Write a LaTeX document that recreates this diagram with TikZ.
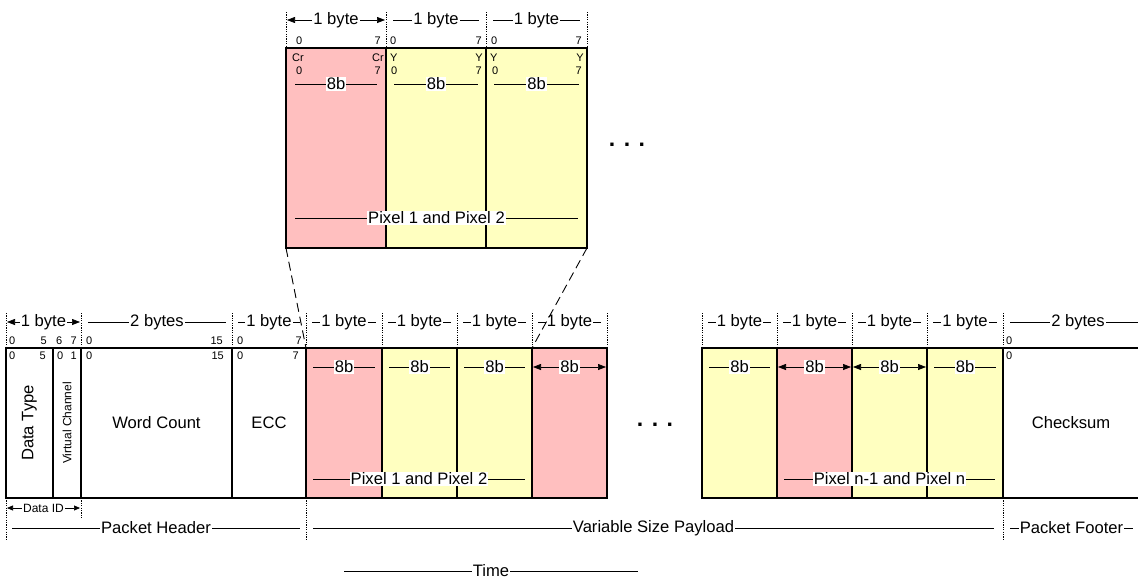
\documentclass[tikz,border=0pt]{standalone}
\usepackage{fontspec}
\setmainfont{Liberation Sans}
\usetikzlibrary{arrows.meta}
\definecolor{crpink}{HTML}{FFBFBF}
\definecolor{lumayellow}{HTML}{FFFFC0}

\tikzset{
  field/.style={draw=black, line width=2.4pt, inner sep=0pt, outer sep=0pt, anchor=north west},
  fieldtext/.style={font=\fontsize{16.6}{19}\selectfont},
  dimline/.style={line width=0.7pt},
  dimarrows/.style={{Triangle[length=8pt,width=6pt]}-{Triangle[length=8pt,width=6pt]}},
  smallarrows/.style={{Triangle[length=6pt,width=5pt]}-{Triangle[length=6pt,width=5pt]}},
  dimlabel/.style={fill=white, inner sep=1pt, font=\fontsize{16.6}{19}\selectfont},
  smalllabel/.style={fill=white, inner sep=1pt, font=\fontsize{12}{14}\selectfont},
  guide/.style={line width=0.6pt, dash pattern=on 1.2pt off 1.2pt},
  bitno/.style={inner sep=0pt, font=\fontsize{11}{13}\selectfont},
  zoomline/.style={line width=0.9pt, dash pattern=on 9pt off 5pt},
  ellipsis/.style={inner sep=0pt, font=\fontsize{23}{26}\selectfont\bfseries},
}

% dimension line with a centred label: [line options] x1 x2 y text
\newcommand\dimlab[5][]{%
  \draw[dimline,#1] (#2,#4) -- (#3,#4) node[midway, dimlabel] {#5};}
\newcommand\guideline[3]{\draw[guide] (#1,#2) -- (#1,#3);}

\begin{document}
\begin{tikzpicture}[x=1pt,y=-1pt]
\clip (0,0) rectangle (1138,581);

% ---------------- enlarged pixel pair ----------------
\node[field, fill=crpink,     minimum width=100pt, minimum height=200pt] (t1) at (286,48) {};
\node[field, fill=lumayellow, minimum width=100pt, minimum height=200pt] (t2) at (386,48) {};
\node[field, fill=lumayellow, minimum width=101pt, minimum height=200pt] (t3) at (486,48) {};

\foreach \gx in {286,386,486,587} {\guideline{\gx}{12}{48}}
\dimlab[dimarrows]{287}{385}{20}{1 byte}
\dimlab{393}{479}{20}{1 byte}
\dimlab{493}{580}{20}{1 byte}

% bit numbers above the enlarged bytes
\node[bitno, anchor=west] at (296,41) {0};
\node[bitno, anchor=east] at (381,41) {7};
\node[bitno, anchor=west] at (390,41) {0};
\node[bitno, anchor=east] at (482,41) {7};
\node[bitno, anchor=west] at (491,41) {0};
\node[bitno, anchor=east] at (582,41) {7};

% component names and bit numbers inside the enlarged bytes
\node[bitno, anchor=west] at (292,58) {Cr};
\node[bitno, anchor=east] at (384,58) {Cr};
\node[bitno, anchor=west] at (296,71) {0};
\node[bitno, anchor=east] at (381,71) {7};
\node[bitno, anchor=west] at (390,58) {Y};
\node[bitno, anchor=east] at (483,58) {Y};
\node[bitno, anchor=west] at (391,71) {0};
\node[bitno, anchor=east] at (482,71) {7};
\node[bitno, anchor=west] at (490,58) {Y};
\node[bitno, anchor=east] at (584,58) {Y};
\node[bitno, anchor=west] at (492,71) {0};
\node[bitno, anchor=east] at (582,71) {7};

\dimlab{295}{377}{84}{8b}
\dimlab{394}{478}{84}{8b}
\dimlab{494}{579}{84}{8b}
\dimlab{295}{578}{218}{Pixel 1 and Pixel 2}

\node[ellipsis] (dotstop) at (627,145) {. . .};

% ---------------- packet ----------------
\node[field, minimum width=47pt,  minimum height=150pt] (dt)  at (6,348) {};
\node[field, minimum width=28pt,  minimum height=150pt] (vc)  at (53,348) {};
\node[field, minimum width=151pt, minimum height=150pt] (wc)  at (81,348) {};
\node[field, minimum width=74pt,  minimum height=150pt] (ecc) at (232,348) {};
\node[field, fill=crpink,     minimum width=76pt, minimum height=150pt] (p1) at (306,348) {};
\node[field, fill=lumayellow, minimum width=75pt, minimum height=150pt] (p2) at (382,348) {};
\node[field, fill=lumayellow, minimum width=75pt, minimum height=150pt] (p3) at (457,348) {};
\node[field, fill=crpink,     minimum width=75pt, minimum height=150pt] (p4) at (532,348) {};
\node[field, fill=lumayellow, minimum width=75pt, minimum height=150pt] (q1) at (702,348) {};
\node[field, fill=crpink,     minimum width=75pt, minimum height=150pt] (q2) at (777,348) {};
\node[field, fill=lumayellow, minimum width=75pt, minimum height=150pt] (q3) at (852,348) {};
\node[field, fill=lumayellow, minimum width=76pt, minimum height=150pt] (q4) at (927,348) {};
\node[field, minimum width=142pt, minimum height=150pt] (cs) at (1003,348) {};

\node[fieldtext, rotate=90] (dtlabel) at (dt.center) {Data Type};
\node[rotate=90, font=\fontsize{12}{14}\selectfont] (vclabel) at (vc.center) {Virtual Channel};
\node[fieldtext] (wclabel) at (wc.center) {Word Count};
\node[fieldtext] (ecclabel) at (ecc.center) {ECC};
\node[fieldtext] (cslabel) at (1071,423) {Checksum};

% byte-width markers above the packet
\foreach \gx in {6,81,232,306,382,457,532,607,702,777,852,927,1003} {\guideline{\gx}{313}{348}}
\dimlab[dimarrows]{7}{80}{322}{1 byte}
\dimlab{88}{226}{322}{2 bytes}
\dimlab{238}{300}{322}{1 byte}
\foreach \bx/\ex in {306/382,382/457,457/532,532/607,702/777,777/852,852/927,927/1003}
  {\dimlab{\bx+6}{\ex-6}{322}{1 byte}}
\dimlab{1010}{1146}{322}{2 bytes}

% bit numbers above the header fields
\node[bitno, anchor=west] at (9,341) {0};
\node[bitno, anchor=east] at (47,341) {5};
\node[bitno, anchor=west] at (56,341) {6};
\node[bitno, anchor=east] at (77,341) {7};
\node[bitno, anchor=west] at (86,341) {0};
\node[bitno, anchor=east] at (223,341) {15};
\node[bitno, anchor=west] at (237,341) {0};
\node[bitno, anchor=east] at (302,341) {7};
\node[bitno, anchor=west] at (1006,341) {0};

% bit numbers inside the header fields
\node[bitno, anchor=west] at (9,356) {0};
\node[bitno, anchor=east] at (46,356) {5};
\node[bitno, anchor=west] at (57,356) {0};
\node[bitno, anchor=east] at (77,356) {1};
\node[bitno, anchor=west] at (86,356) {0};
\node[bitno, anchor=east] at (224,356) {15};
\node[bitno, anchor=west] at (237,356) {0};
\node[bitno, anchor=east] at (299,356) {7};
\node[bitno, anchor=west] at (1006,356) {0};

% bit-width markers inside the payload bytes
\dimlab{313}{375}{367}{8b}
\dimlab{389}{450}{367}{8b}
\dimlab{464}{525}{367}{8b}
\dimlab[dimarrows]{533}{606}{367}{8b}
\dimlab{709}{770}{367}{8b}
\dimlab[dimarrows]{778}{851}{367}{8b}
\dimlab[dimarrows]{853}{926}{367}{8b}
\dimlab{934}{996}{367}{8b}

\dimlab{313}{525}{479}{Pixel 1 and Pixel 2}
\dimlab{784}{995}{479}{Pixel n-1 and Pixel n}

\node[ellipsis] (dotsbottom) at (655,425) {. . .};

% zoom lines from the enlarged pair down to the packet
\draw[zoomline] (t1.south west) -- (p1.north west);
\draw[zoomline] (t3.south east) -- (p4.north west);

% section markers below the packet
\guideline{6}{498}{540}
\guideline{81}{498}{518}
\guideline{306}{498}{540}
\guideline{1003}{498}{540}
\draw[dimline, smallarrows] (7,508) -- (80,508) node[midway, smalllabel] {Data ID};
\dimlab{12}{300}{528}{Packet Header}
\dimlab{313}{994}{528}{Variable Size Payload}
\dimlab{1010}{1133}{528}{Packet Footer}

\draw[dimline] (344,571) -- (638,571) node[midway, fill=white, inner sep=0.5pt, font=\fontsize{16.6}{19}\selectfont] {Time};
\end{tikzpicture}
\end{document}
